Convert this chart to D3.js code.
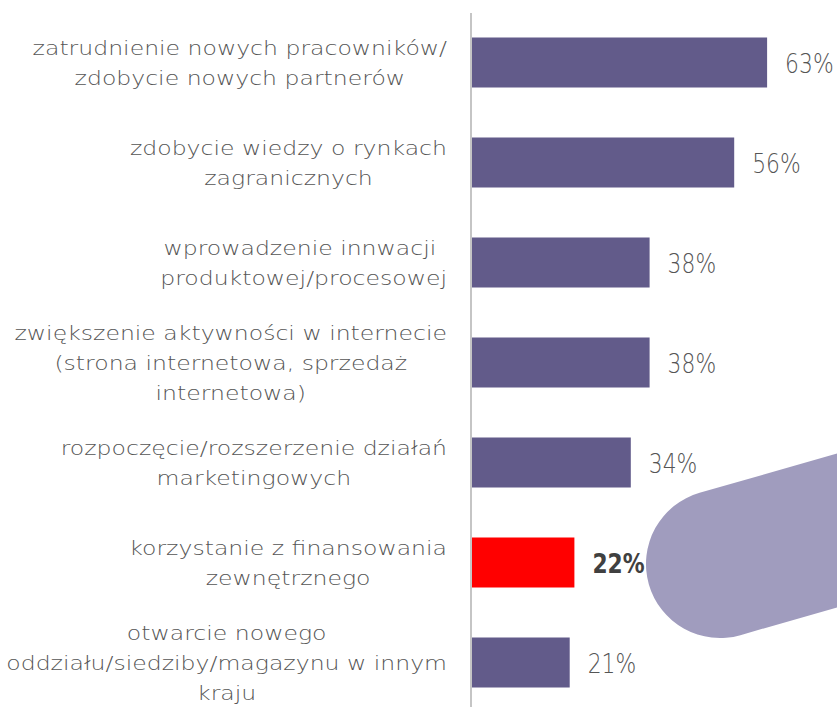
<!DOCTYPE html>
<html>
<head>
<meta charset="utf-8">
<script src="https://cdn.jsdelivr.net/npm/d3@7"></script>
<style>
  html, body { margin: 0; padding: 0; background: #ffffff; }
  svg { display: block; }
</style>
</head>
<body>
<svg id="chart" width="837" height="707"></svg>
<script>
// ---- data ----
const categories = [
  ["zatrudnienie nowych pracowników/", "zdobycie nowych partnerów"],
  ["zdobycie wiedzy o rynkach", "zagranicznych"],
  ["wprowadzenie innwacji ", "produktowej/procesowej"],
  ["zwiększenie aktywności w internecie", "(strona internetowa, sprzedaż", "internetowa)"],
  ["rozpoczęcie/rozszerzenie działań", "marketingowych"],
  ["korzystanie z finansowania", "zewnętrznego"],
  ["otwarcie nowego", "oddziału/siedziby/magazynu w innym", "kraju"]
];
const values = [63, 56, 38, 38, 34, 22, 21];
const highlighted = [false, false, false, false, false, true, false];

// ---- layout ----
const W = 837, H = 707;
const axisX = 471;
const svg = d3.select("#chart");

const x = d3.scaleLinear().domain([0, 100]).range([axisX, axisX + 470]);
const y = d3.scaleBand().domain(d3.range(values.length)).range([12.5, 712.5])
  .paddingInner(0.5).paddingOuter(0.25);

const FONT = "'DejaVu Sans', sans-serif";
const textColor = "#555555";

// decorative pill (background)
const pillC = [720, 564], pillR = 74, pillAng = -16;
svg.append("g")
  .attr("transform", `translate(${pillC[0]},${pillC[1]}) rotate(${pillAng})`)
  .append("rect")
  .attr("x", -pillR).attr("y", -pillR)
  .attr("width", 600).attr("height", pillR * 2)
  .attr("rx", pillR).attr("ry", pillR)
  .attr("fill", "#a09cbe");

// bars
svg.append("g").selectAll("rect").data(values).join("rect")
  .attr("x", x(0) + 1)
  .attr("y", (d, i) => y(i))
  .attr("width", d => x(d) - x(0) - 1)
  .attr("height", y.bandwidth())
  .attr("fill", (d, i) => highlighted[i] ? "#ff0000" : "#625b8a");

// axis line
svg.append("line")
  .attr("x1", axisX).attr("x2", axisX)
  .attr("y1", 13).attr("y2", H)
  .attr("stroke", "#a6a6a6").attr("stroke-width", 1.3);

// value labels
const vg = svg.append("g");
values.forEach((d, i) => {
  vg.append("g")
    .attr("transform", `translate(${x(d) + 18},${y(i) + y.bandwidth() / 2 + 10}) scale(0.84,1)`)
    .append("text")
    .attr("font-family", FONT)
    .attr("font-size", 26)
    .attr("font-weight", highlighted[i] ? "bold" : 300)
    .attr("fill", highlighted[i] ? "#404040" : textColor)
    .text(d + "%");
});

// category labels (centered lines within a right-aligned block)
const labelRight = 447;
const lineH = 30;
const sx = 1.24;
const lg = svg.append("g");
categories.forEach((lines, i) => {
  const cy = y(i) + y.bandwidth() / 2;
  const g = lg.append("g").attr("transform", `translate(${labelRight},0) scale(${sx},1)`);
  const ts = lines.map((ln, k) => g.append("text")
    .attr("y", cy + (k - (lines.length - 1) / 2) * lineH + 8)
    .attr("font-family", FONT)
    .attr("font-size", 19)
    .attr("font-weight", 300)
    .attr("fill", textColor)
    .attr("xml:space", "preserve")
    .style("white-space", "pre")
    .text(ln));
  const widths = ts.map(t => t.node().getComputedTextLength());
  const bw = Math.max(...widths);
  ts.forEach(t => t.attr("x", -bw / 2).attr("text-anchor", "middle"));
});
</script>
</body>
</html>
